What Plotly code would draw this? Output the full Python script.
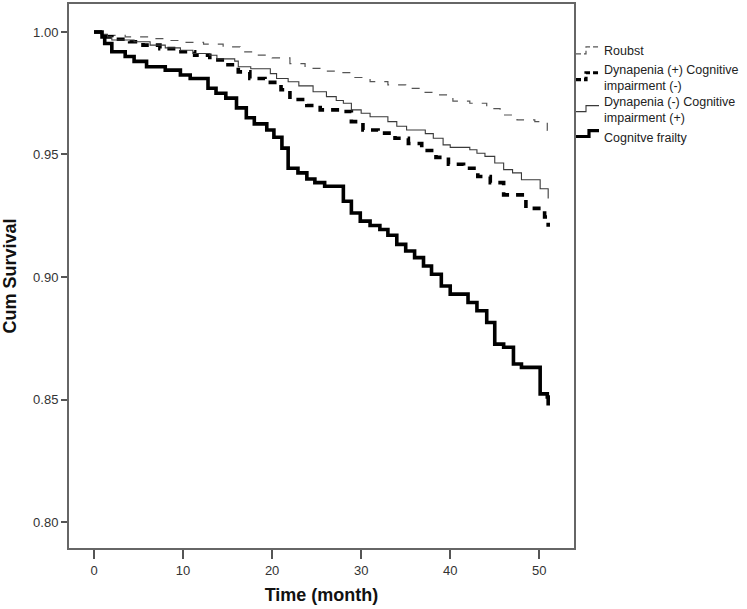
import plotly.graph_objects as go

# ---- data (Kaplan-Meier step estimates) ----
robust_t = [0, 1.5, 3.5, 6.3, 8.2, 10.2, 12.3, 14.5, 16.4, 18.1, 20.0, 22.0, 23.7, 25.6, 27.6,
            29.3, 31.0, 33.0, 35.0, 36.7, 38.6, 40.3, 42.2, 44.1, 45.6, 47.5, 49.5, 50.9, 51.0]
robust_s = [1.000, 0.9986, 0.998, 0.9973, 0.9965, 0.9957, 0.995, 0.9939, 0.9919, 0.9905, 0.9894,
            0.9871, 0.9851, 0.984, 0.9834, 0.9814, 0.9797, 0.9784, 0.977, 0.9753, 0.9743, 0.9718,
            0.9709, 0.9687, 0.9661, 0.9641, 0.9634, 0.9598, 0.9598]

dynp_t = [0, 1.0, 2.0, 4.0, 5.5, 7.4, 9.4, 11.3, 13.0, 14.7, 16.2, 17.5, 19.2, 21.0, 22.0, 23.9,
          25.4, 27.6, 28.9, 30.2, 31.9, 33.8, 35.3, 36.8, 38.4, 39.8, 41.5, 43.1, 44.5, 46.0,
          48.5, 50.6, 51.0]
dynp_s = [1.000, 0.998, 0.997, 0.996, 0.9946, 0.9932, 0.9919, 0.9905, 0.9886, 0.9866, 0.9837,
          0.981, 0.9794, 0.9764, 0.9724, 0.970, 0.9682, 0.9675, 0.9634, 0.960, 0.9587, 0.9566,
          0.9545, 0.9516, 0.9488, 0.946, 0.9444, 0.941, 0.9385, 0.9335, 0.928, 0.9245, 0.9205]

dynm_t = [0, 0.8, 1.5, 2.0, 4.5, 6.3, 8.0, 9.7, 11.1, 13.0, 13.8, 15.8, 16.2, 17.6, 19.8, 20.5,
          21.8, 23.0, 24.6, 26.1, 27.2, 28.0, 28.9, 30.0, 31.0, 33.0, 34.0, 35.1, 37.2, 38.1,
          39.2, 40.0, 42.2, 43.0, 43.9, 45.0, 46.0, 47.0, 48.0, 50.1, 51.0]
dynm_s = [1.000, 0.999, 0.998, 0.9967, 0.996, 0.9946, 0.9935, 0.9925, 0.9912, 0.9905, 0.989,
          0.9881, 0.9858, 0.985, 0.983, 0.981, 0.9797, 0.978, 0.9756, 0.9736, 0.972, 0.9709,
          0.9682, 0.9668, 0.9654, 0.9634, 0.9615, 0.960, 0.9585, 0.9566, 0.9539, 0.9529, 0.9519,
          0.9505, 0.9492, 0.9465, 0.9438, 0.9425, 0.9397, 0.936, 0.932]

frail_t = [0, 0.9, 1.2, 2.0, 3.5, 4.5, 5.9, 8.0, 9.7, 10.8, 12.8, 13.7, 14.8, 16.0, 17.1, 18.0,
           19.4, 20.2, 21.1, 21.8, 22.9, 23.9, 24.8, 25.9, 28.0, 28.9, 29.9, 31.0, 32.1, 33.0,
           34.0, 35.0, 36.0, 37.0, 37.9, 39.0, 40.0, 42.0, 43.0, 44.1, 45.0, 46.0, 47.1, 48.0,
           50.1, 50.9, 51.0]
frail_s = [1.000, 0.998, 0.9953, 0.9919, 0.990, 0.988, 0.9858, 0.9844, 0.9824, 0.981, 0.977,
           0.975, 0.973, 0.969, 0.965, 0.9625, 0.960, 0.957, 0.9526, 0.9444, 0.9425, 0.940,
           0.9385, 0.937, 0.9309, 0.9261, 0.9228, 0.921, 0.9194, 0.917, 0.9133, 0.9106, 0.9079,
           0.9045, 0.9011, 0.8963, 0.893, 0.8896, 0.8862, 0.8814, 0.8726, 0.8713, 0.8645, 0.8631,
           0.8523, 0.851, 0.8476]

legend_names = ["Roubst", "Dynapenia (+) Cognitive<br>impairment (-)",
                "Dynapenia (-) Cognitive<br>impairment (+)", "Cognitve frailty"]
x_ticks = [0, 10, 20, 30, 40, 50]
y_ticks = [0.80, 0.85, 0.90, 0.95, 1.00]

# ---- figure geometry (pixels) ----
W, H = 747, 609
L, R, T, B = 69, 574, 2, 548


def px(x):
    return (x - L) / (R - L)


def py(y):
    return (B - y) / (B - T)


styles = [
    dict(color="#555555", width=1.2, dash="8px,9px"),
    dict(color="#000000", width=3.6, dash="8px,7px"),
    dict(color="#3a3a3a", width=1.1, dash="solid"),
    dict(color="#000000", width=3.6, dash="solid"),
]
series = [(robust_t, robust_s), (dynp_t, dynp_s), (dynm_t, dynm_s), (frail_t, frail_s)]

fig = go.Figure()
for (t, s), st in zip(series, styles):
    fig.add_trace(go.Scatter(x=t, y=s, mode="lines", line=dict(shape="hv", **st),
                             showlegend=False, hoverinfo="skip"))

fig.update_layout(
    width=W, height=H,
    margin=dict(l=L, r=W - R, t=T, b=H - B),
    paper_bgcolor="white", plot_bgcolor="white",
    font=dict(family="Liberation Sans, Arial, sans-serif", size=13, color="#333333"),
    showlegend=False,
)
fig.update_xaxes(
    range=[-2.81, 53.9], tickvals=x_ticks, ticks="outside", ticklen=9, tickwidth=2,
    tickcolor="#555555", showline=True, linecolor="#666666", linewidth=2, mirror=True,
    showgrid=False, zeroline=False,
    title=dict(text="<b>Time (month)</b>", font=dict(size=18, color="#111111"), standoff=12),
)
fig.update_yaxes(
    range=[0.7894, 1.0114], tickvals=y_ticks, tickformat=".2f", ticks="outside", ticklen=6,
    tickwidth=2, tickcolor="#555555", showline=True, linecolor="#666666", linewidth=2,
    mirror=True, showgrid=False, zeroline=False,
    title=dict(text="<b>Cum Survival</b>", font=dict(size=18, color="#111111"), standoff=16),
)

# ---- custom SPSS-style legend ----
sym = [  # (x0, xs, x1, ylow, yhigh)
    (576, 586, 599, 52, 45),
    (576, 586, 599, 78, 71),
    (576, 586, 599, 110, 104),
    (576, 589, 599, 135, 129),
]
for (x0, xs, x1, yl, yh), st in zip(sym, styles):
    path = (f"M {px(x0)},{py(yl)} L {px(xs)},{py(yl)} L {px(xs)},{py(yh)} "
            f"L {px(x1)},{py(yh)}")
    fig.add_shape(type="path", path=path, xref="paper", yref="paper",
                  line=dict(color=st["color"], width=min(st["width"], 3.2),
                            dash="solid" if st["dash"] == "solid" else "5px,3px"))

text_y = [49, 76, 108, 136]
for name, yy in zip(legend_names, text_y):
    fig.add_annotation(text=name, x=px(602), y=py(yy), xref="paper", yref="paper",
                       xanchor="left", yanchor="middle", align="left", showarrow=False,
                       font=dict(size=12.5, color="#222222"))

fig.write_html("out.html", config={"displayModeBar": False},
               post_script="document.body.style.margin='0';document.body.style.overflow='hidden';")
